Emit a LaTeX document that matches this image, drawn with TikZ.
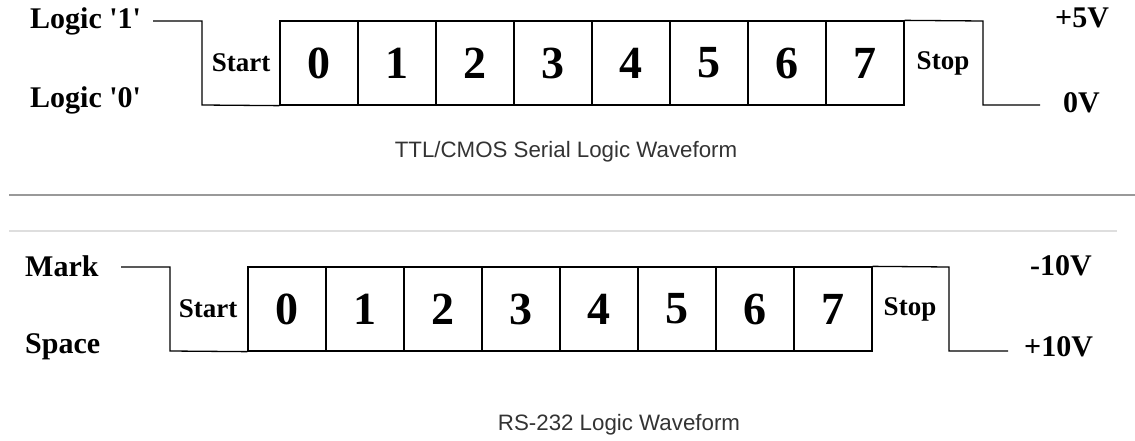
\documentclass[tikz,border=0pt]{standalone}
\usepackage{fontspec}
\setmainfont{Liberation Serif}
\setsansfont{Liberation Sans}
\usetikzlibrary{positioning,calc}

\tikzset{
    lbl/.style={font=\bfseries\fontsize{30}{32}\selectfont, inner sep=0pt},
    bitlbl/.style={font=\bfseries\fontsize{27}{30}\selectfont, inner sep=0pt},
    bitbox/.style={draw, rectangle, line width=1.3pt, minimum width=78pt, minimum height=84pt, inner sep=0pt, font=\bfseries\fontsize{46}{48}\selectfont},
    caption/.style={font=\sffamily\fontsize{22.3}{26}\selectfont, text=black!80, inner sep=0pt},
    wave/.style={line width=1.3pt}
}

\begin{document}
\begin{tikzpicture}[x=1pt, y=-1pt]
    \useasboundingbox (0,0) rectangle (1135,441);

    % TTL/CMOS waveform
    \node[lbl, anchor=west] (one) at (30,21) {Logic \textquotesingle 1\textquotesingle};
    \node[lbl, anchor=west] (zero) at (30,100) {Logic \textquotesingle 0\textquotesingle};
    \node[lbl, anchor=west] (pfive) at (1055,18) {+5V};
    \node[lbl, anchor=west] (zerov) at (1063,103) {0V};
    \foreach \i in {0,...,7}
        \node[bitbox] (t\i) at ({319+78*\i},63) {\i};
    \node[bitlbl] (tstart) at (241,63) {Start};
    \node[bitlbl] (tstop) at (943,63) {Stop};
    \coordinate (tin) at (153,21);
    \coordinate (thi) at (202,21);
    \coordinate (tlo) at (202,105);
    \coordinate (tend) at (983,21);
    \coordinate (tendlo) at (983,105);
    \coordinate (tout) at (1040,105);
    \draw[wave] (tin) -- (thi) -- (tlo) -- (t0.south west);
    \draw[wave] (t7.north east) -- (tend) -- (tendlo) -- (tout);
    \node[caption] (tcap) at (566,152) {TTL/CMOS Serial Logic Waveform};

    % separators
    \draw[black!40, line width=1.5pt] (9,195) -- (1135,195);
    \draw[black!13, line width=1.5pt] (9,231) -- (1117,231);

    % RS-232 waveform
    \node[lbl, anchor=west] (mark) at (25,266) {Mark};
    \node[lbl, anchor=west] (space) at (25,347) {Space};
    \node[lbl, anchor=west] (mten) at (1030,266) {-10V};
    \node[lbl, anchor=west] (pten) at (1024,347) {+10V};
    \foreach \i in {0,...,7}
        \node[bitbox] (r\i) at ({287+78*\i},309) {\i};
    \node[bitlbl] (rstart) at (208,309) {Start};
    \node[bitlbl] (rstop) at (910,309) {Stop};
    \coordinate (rin) at (121,267);
    \coordinate (rhi) at (170,267);
    \coordinate (rlo) at (170,351);
    \coordinate (rend) at (949,267);
    \coordinate (rendlo) at (949,351);
    \coordinate (rout) at (1008,351);
    \draw[wave] (rin) -- (rhi) -- (rlo) -- (r0.south west);
    \draw[wave] (r7.north east) -- (rend) -- (rendlo) -- (rout);
    \node[caption] (rcap) at (619,425) {RS-232 Logic Waveform};
\end{tikzpicture}
\end{document}
